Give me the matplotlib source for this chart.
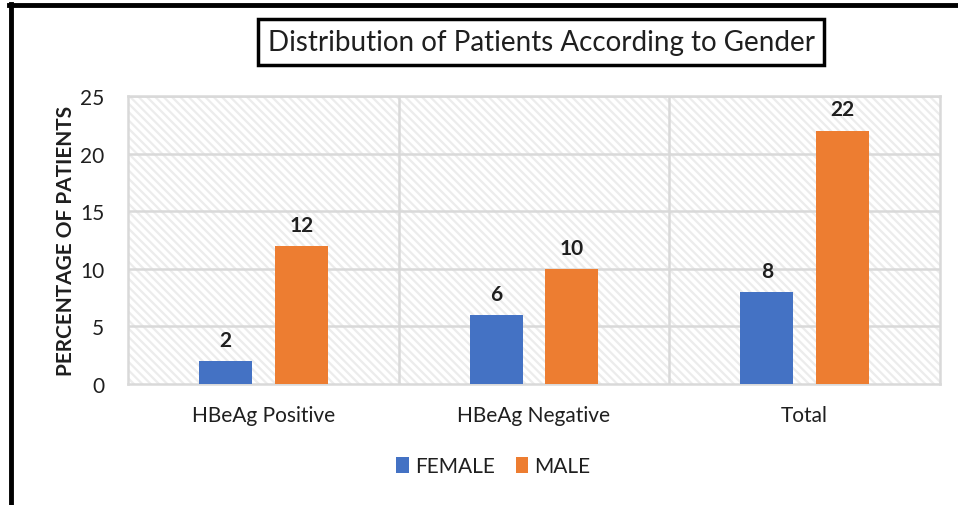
import numpy as np
import matplotlib
matplotlib.use("Agg")
import matplotlib.pyplot as plt
from matplotlib.patches import Rectangle

categories = ["HBeAg Positive", "HBeAg Negative", "Total"]
female = [2, 6, 8]
male = [12, 10, 22]
series_names = ["FEMALE", "MALE"]
colors = ["#4472C4", "#ED7D31"]
yticks = [0, 5, 10, 15, 20, 25]

plt.rcParams['font.family'] = ['Lato', 'DejaVu Sans']
plt.rcParams['hatch.linewidth'] = 1.6
txt = '#1f1f1f'
grid = '#d9d9d9'

fig = plt.figure(figsize=(9.58, 5.06), dpi=100)
ax = fig.add_axes([0.1336, 0.2391, 0.9812 - 0.1336, 0.8083 - 0.2391])

# hatched background of the plot area
bg = Rectangle((0, 0), 1, 1, transform=ax.transAxes, facecolor='white',
               edgecolor='#ececec', hatch='\\\\\\\\', lw=0, zorder=0)
ax.add_patch(bg)

x = np.arange(len(categories))
w = 0.196
off = 0.14
b1 = ax.bar(x - off, female, w, color=colors[0], label=series_names[0], zorder=3)
b2 = ax.bar(x + off, male, w, color=colors[1], label=series_names[1], zorder=3)

for bars in (b1, b2):
    for r in bars:
        ax.annotate(f"{r.get_height():g}", (r.get_x() + r.get_width() / 2, r.get_height()),
                    xytext=(0, 8), textcoords='offset points', ha='center', va='bottom',
                    fontsize=15, fontweight='bold', color=txt)

ax.set_xlim(-0.5, len(categories) - 0.5)
ax.set_ylim(0, 25)
ax.set_yticks(yticks)
ax.set_xticks(x)
ax.set_xticklabels(categories)
ax.tick_params(axis='both', length=0, labelsize=15, labelcolor=txt)
ax.tick_params(axis='y', pad=17)
ax.tick_params(axis='x', pad=15)

for v in yticks[1:]:
    ax.axhline(v, color=grid, lw=1.8, zorder=1)
for v in [0.5, 1.5]:
    ax.axvline(v, color=grid, lw=1.8, zorder=1)
for s in ax.spines.values():
    s.set_color(grid)
    s.set_linewidth(1.8)

ax.set_ylabel("PERCENTAGE OF PATIENTS", fontsize=15, fontweight='bold', color=txt, labelpad=3)

fig.text(0.565, 0.9153, "Distribution of Patients According to Gender", ha='center', va='center',
         fontsize=20, color=txt,
         bbox=dict(boxstyle='square,pad=0.35', facecolor='white', edgecolor='black', lw=2.5))

fig.legend(handles=[b1, b2], loc='center', bbox_to_anchor=(0.515, 0.077), ncol=2, frameon=False,
           fontsize=15, handlelength=0.6, handleheight=0.8, handletextpad=0.3, columnspacing=1.0,
           labelcolor=txt)

# outer frame on left and top
fig.add_artist(plt.Line2D([0.0115, 0.0115], [0, 0.99], transform=fig.transFigure, color='black', lw=3.5))
fig.add_artist(plt.Line2D([0.0095, 1], [0.9891, 0.9891], transform=fig.transFigure, color='black', lw=3.5))

fig.savefig("out.png", dpi=100)
